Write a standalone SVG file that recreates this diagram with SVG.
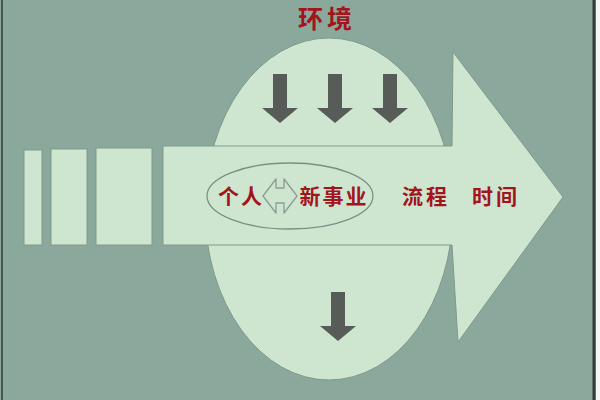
<svg xmlns="http://www.w3.org/2000/svg" width="600" height="400" viewBox="0 0 600 400">
<defs>
<style>
.light{fill:#cee6d0;stroke:#7f998c;stroke-width:1}
.down{fill:#585c59}
.red{font-family:"Noto Sans CJK SC","Noto Sans CJK JP",serif;font-weight:bold;fill:#a3141c}
</style>
<path id="dn" d="M-7,0 H7 V34 H18 L0,49 L-18,34 H-7 Z"/>
</defs>
<rect x="0" y="0" width="600" height="400" fill="#8aa99c"/>
<rect x="596" y="0" width="4" height="400" fill="#f4f4f4"/>
<line x1="2" y1="0" x2="2" y2="400" stroke="#2e3d36" stroke-width="1.5"/>
<line x1="594" y1="0" x2="594" y2="400" stroke="#2e3d36" stroke-width="3"/>
<g id="bars">
<rect class="light" x="24" y="150" width="18" height="95"/>
<rect class="light" x="51" y="149" width="36" height="96"/>
<rect class="light" x="96" y="148" width="56" height="97"/>
</g>
<g id="environment">
<ellipse class="light" cx="329" cy="209" rx="124" ry="171"/>
</g>
<g id="main-arrow">
<path class="light" d="M163,146 H452 L453,52 L563,197 L458,342 L452,245 H163 Z"/>
</g>
<g id="arrows" class="down">
<use href="#dn" x="280" y="74"/>
<use href="#dn" x="335" y="74"/>
<use href="#dn" x="390" y="74"/>
<use href="#dn" x="338" y="292"/>
</g>
<g id="title">
<text class="red" x="327" y="28" font-size="25" text-anchor="middle" letter-spacing="4">环境</text>
</g>
<g id="inner">
<ellipse cx="290" cy="196" rx="83" ry="33" fill="none" stroke="#7a8f84" stroke-width="1.3"/>
<text class="red" x="241" y="204" font-size="21" text-anchor="middle" letter-spacing="2">个人</text>
<path d="M263,196 L276,179 V188 H284 V179 L297,196 L284,213 V203 H276 V213 Z" fill="none" stroke="#8c9c94" stroke-width="1.3" stroke-linejoin="round"/>
<text class="red" x="334" y="204" font-size="21" text-anchor="middle" letter-spacing="2">新事业</text>
</g>
<g id="labels">
<text class="red" x="426" y="204" font-size="21" text-anchor="middle" letter-spacing="3">流程</text>
<text class="red" x="496" y="204" font-size="21" text-anchor="middle" letter-spacing="3">时间</text>
</g>
</svg>
